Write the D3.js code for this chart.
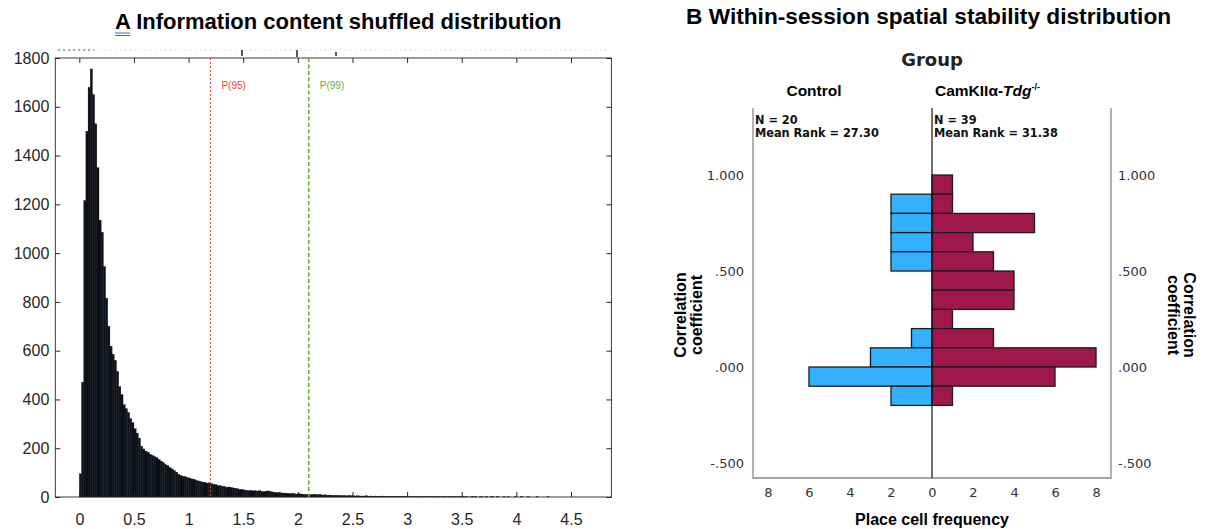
<!DOCTYPE html>
<html>
<head>
<meta charset="utf-8">
<script src="https://cdn.jsdelivr.net/npm/d3@7"></script>
<style>
  body { margin: 0; background: #fff; }
  svg { display: block; }
</style>
</head>
<body>
<svg id="chart" width="1205" height="529"></svg>
<script>

// A: shuffled information content, counts per 0.02 bin starting at 0
var binStart = 0;
var binWidth = 0.02;
var icCounts = [
  95, 470, 1215, 1500, 1680, 1755, 1650, 1530, 1350, 1135,
  1085, 945, 815, 700, 618, 585, 560, 515, 452, 420,
  378, 362, 346, 322, 305, 280, 262, 241, 208, 197,
  188, 184, 175, 171, 166, 161, 154, 147, 141, 133,
  129, 121, 115, 108, 102, 93, 88, 85, 83, 79,
  78, 74, 73, 68, 66, 64, 61, 60, 57, 58,
  55, 52, 51, 47, 46, 44, 43, 40, 41, 39,
  37, 35, 34, 31, 31, 29, 27, 26, 27, 25,
  26, 24, 26, 23, 22, 24, 25, 22, 21, 19,
  18, 19, 17, 16, 16, 15, 14, 15, 13, 12,
  13, 12, 11, 10, 11, 9, 10, 11, 10, 9,
  10, 8, 9, 7, 8, 7, 6, 7, 6, 6,
  5, 6, 5, 6, 5, 5, 4, 5, 4, 4,
  4, 5, 3, 4, 3, 4, 3, 3, 4, 3,
  3, 2, 3, 3, 2, 3, 2, 2, 3, 2,
  2, 2, 2, 1, 2, 2, 1, 2, 1, 2,
  2, 1, 1, 2, 1, 1, 2, 1, 1, 1,
  2, 1, 1, 1, 1, 1, 1, 1, 0, 1,
  1, 1, 0, 1, 1, 0, 1, 0, 1, 1,
  0, 1, 0, 0, 1, 0, 1, 0, 0, 1,
  0, 0, 1, 0, 0, 1, 0, 0, 0, 1,
  0, 0, 0, 0, 1, 0, 0, 0, 0, 0
];
var icTicksX = [0, 0.5, 1, 1.5, 2, 2.5, 3, 3.5, 4, 4.5];
var icTicksY = [0, 200, 400, 600, 800, 1000, 1200, 1400, 1600, 1800];
var percentileNames = ["P(95)", "P(99)"];
var percentileValues = [1.2, 2.1];

// B: within-session stability, bins of 0.1 (lower edge), top to bottom
var stabilityBins = [0.9, 0.8, 0.7, 0.6, 0.5, 0.4, 0.3, 0.2, 0.1, 0.0, -0.1, -0.2];
var controlFreq = [0, 2, 2, 2, 2, 0, 0, 0, 1, 3, 6, 2];
var tdgFreq     = [1, 1, 5, 2, 3, 4, 4, 1, 3, 8, 6, 1];
var stabilityTicks = [1, 0.5, 0, -0.5];
var freqTicks = [0, 2, 4, 6, 8];
var groupN = [20, 39];
var groupRank = ["27.30", "31.38"];

var svg = d3.select("#chart");
var sans = "'Liberation Sans', Arial, Helvetica, sans-serif";
var spss = "'DejaVu Sans', Verdana, sans-serif";

// ---------- panel A ----------
var A = {left: 55.3, right: 611.4, top: 58, bottom: 497};
var xA = d3.scaleLinear().domain([-0.22, 4.87]).range([A.left, A.right]);
var yA = d3.scaleLinear().domain([0, 1800]).range([A.bottom, A.top]);
var axisInk = "#262626";

var titleA = svg.append("text")
  .attr("x", 115).attr("y", 29)
  .attr("font-family", sans).attr("font-weight", "bold").attr("font-size", 22)
  .attr("fill", "#000")
  .text("A Information content shuffled distribution");
var aw = titleA.node().getSubStringLength(0, 1);
[33, 35.5].forEach(function (y) {
  svg.append("line").attr("x1", 115).attr("x2", 115 + aw)
    .attr("y1", y).attr("y2", y)
    .attr("stroke", "#3d66d6").attr("stroke-width", 1);
});

// leftover marks above the axes in the original figure
svg.append("line")
  .attr("x1", A.left).attr("x2", A.right).attr("y1", 50).attr("y2", 50)
  .attr("stroke", "#c8c8c8").attr("stroke-dasharray", "1,4");
svg.append("line")
  .attr("x1", 58).attr("x2", 94).attr("y1", 50).attr("y2", 50)
  .attr("stroke", "#555").attr("stroke-dasharray", "2,3");
[[242, 50, 56], [297, 50, 57], [336, 52, 56]].forEach(function (m) {
  svg.append("line").attr("x1", m[0]).attr("x2", m[0]).attr("y1", m[1]).attr("y2", m[2])
    .attr("stroke", "#222").attr("stroke-width", 1.5);
});

var gA = svg.append("g");

gA.selectAll("rect.bin")
  .data(icCounts)
  .join("rect")
  .attr("class", "bin")
  .attr("x", function (d, i) { return xA(binStart + i * binWidth); })
  .attr("width", xA(binWidth) - xA(0))
  .attr("y", function (d) { return yA(d); })
  .attr("height", function (d) { return yA(0) - yA(d); })
  .attr("fill", "#0c111c")
  .attr("stroke", "#000")
  .attr("stroke-width", 0.3);

function styleAxis(g, fontSize) {
  g.select(".domain").remove();
  g.selectAll(".tick line").attr("stroke", axisInk);
  g.selectAll(".tick text")
    .attr("fill", axisInk)
    .attr("font-family", sans)
    .attr("font-size", fontSize);
}

gA.append("g")
  .attr("transform", "translate(0," + A.bottom + ")")
  .call(d3.axisBottom(xA).tickValues(icTicksX).tickSize(-5).tickSizeOuter(0)
    .tickPadding(17).tickFormat(d3.format("")))
  .call(styleAxis, 16);
gA.append("g")
  .attr("transform", "translate(0," + A.top + ")")
  .call(d3.axisTop(xA).tickValues(icTicksX).tickSize(-5).tickSizeOuter(0).tickFormat(""))
  .call(styleAxis, 16);
gA.append("g")
  .attr("transform", "translate(" + A.left + ",0)")
  .call(d3.axisLeft(yA).tickValues(icTicksY).tickSize(-5).tickSizeOuter(0).tickPadding(6)
    .tickFormat(d3.format("d")))
  .call(styleAxis, 16);
gA.append("g")
  .attr("transform", "translate(" + A.right + ",0)")
  .call(d3.axisRight(yA).tickValues(icTicksY).tickSize(-5).tickSizeOuter(0).tickFormat(""))
  .call(styleAxis, 16);

gA.append("rect")
  .attr("x", A.left).attr("y", A.top)
  .attr("width", A.right - A.left).attr("height", A.bottom - A.top)
  .attr("fill", "none").attr("stroke", axisInk).attr("stroke-width", 0.9);

var pColors = ["#ec4040", "#6eab38"];
var pDash = ["2,2", "4,2.5"];
var pWidth = [1, 1.6];
percentileValues.forEach(function (v, i) {
  gA.append("line")
    .attr("x1", xA(v)).attr("x2", xA(v))
    .attr("y1", A.top).attr("y2", A.bottom)
    .attr("stroke", pColors[i]).attr("stroke-width", pWidth[i])
    .attr("stroke-dasharray", pDash[i]);
  gA.append("text")
    .attr("x", xA(v) + 11).attr("y", 89)
    .attr("font-family", sans).attr("font-size", 10)
    .attr("fill", pColors[i])
    .text(percentileNames[i]);
});

// ---------- panel B ----------
var B = {left: 753, right: 1111, top: 108, bottom: 478, mid: 932};
var xL = d3.scaleLinear().domain([0, 8.73]).range([B.mid, B.left]);
var xR = d3.scaleLinear().domain([0, 8.73]).range([B.mid, B.right]);
var yB = d3.scaleLinear().domain([-0.578, 1.349]).range([B.bottom, B.top]);
var tickInk = "#333";

svg.append("text")
  .attr("x", 686).attr("y", 24)
  .attr("font-family", sans).attr("font-weight", "bold").attr("font-size", 22.7)
  .text("B Within-session spatial stability distribution");

svg.append("text")
  .attr("x", B.mid).attr("y", 66).attr("text-anchor", "middle")
  .attr("font-family", spss).attr("font-weight", "bold").attr("font-size", 18)
  .attr("fill", "#222")
  .text("Group");

svg.append("text")
  .attr("x", 814).attr("y", 96).attr("text-anchor", "middle")
  .attr("font-family", sans).attr("font-weight", "bold").attr("font-size", 15.5)
  .text("Control");

var tdgLabel = svg.append("text")
  .attr("x", 935).attr("y", 96)
  .attr("font-family", sans).attr("font-weight", "bold").attr("font-size", 15.5);
tdgLabel.append("tspan").text("CamKIIα-");
tdgLabel.append("tspan").attr("font-style", "italic").text("Tdg");
tdgLabel.append("tspan").attr("font-size", 9).attr("dy", -6).text("-/-");

var gB = svg.append("g");

function drawSide(freq, xs, fill) {
  gB.append("g").selectAll("rect")
    .data(stabilityBins)
    .join("rect")
    .filter(function (d, i) { return freq[i] > 0; })
    .attr("x", function (d, i) { return Math.min(xs(0), xs(freq[stabilityBins.indexOf(d)])); })
    .attr("width", function (d) { return Math.abs(xs(freq[stabilityBins.indexOf(d)]) - xs(0)); })
    .attr("y", function (d) { return yB(d + 0.1); })
    .attr("height", function (d) { return yB(d) - yB(d + 0.1); })
    .attr("fill", fill)
    .attr("stroke", "#1c1c1c")
    .attr("stroke-width", 1.3);
}
drawSide(controlFreq, xL, "#33b0fe");
drawSide(tdgFreq, xR, "#a0184b");

// frame: grey sides and bottom, black centre line
gB.append("path")
  .attr("d", "M" + B.left + "," + B.top + "V" + B.bottom + "H" + B.right + "V" + B.top)
  .attr("fill", "none").attr("stroke", "#8a8a8a").attr("stroke-width", 1.3);
gB.append("line")
  .attr("x1", B.mid).attr("x2", B.mid).attr("y1", B.top).attr("y2", B.bottom)
  .attr("stroke", "#111").attr("stroke-width", 1.2);

function fmtCorr(v) {
  return v.toFixed(3).replace(/^(-?)0\./, "$1.");
}
function styleB(g) {
  g.select(".domain").remove();
  g.selectAll(".tick line").remove();
  g.selectAll(".tick text")
    .attr("fill", tickInk)
    .attr("font-family", spss)
    .attr("font-size", 13);
}

gB.append("g")
  .attr("transform", "translate(" + B.left + ",0)")
  .call(d3.axisLeft(yB).tickValues(stabilityTicks).tickSize(0).tickPadding(9).tickFormat(fmtCorr))
  .call(styleB);
gB.append("g")
  .attr("transform", "translate(" + B.right + ",0)")
  .call(d3.axisRight(yB).tickValues(stabilityTicks).tickSize(0).tickPadding(7).tickFormat(fmtCorr))
  .call(styleB);
gB.append("g")
  .attr("transform", "translate(0," + B.bottom + ")")
  .call(d3.axisBottom(xL).tickValues(freqTicks).tickSize(0).tickPadding(10))
  .call(styleB);
gB.append("g")
  .attr("transform", "translate(0," + B.bottom + ")")
  .call(d3.axisBottom(xR).tickValues(freqTicks.slice(1)).tickSize(0).tickPadding(10))
  .call(styleB);

[B.left, B.mid].forEach(function (x0, i) {
  var t = gB.append("text")
    .attr("font-family", "'DejaVu Sans Condensed', 'DejaVu Sans', sans-serif")
    .attr("font-stretch", "condensed")
    .attr("font-weight", "bold").attr("font-size", 12.6)
    .attr("fill", "#111");
  t.append("tspan").attr("x", x0 + 2).attr("y", 124).text("N = " + groupN[i]);
  t.append("tspan").attr("x", x0 + 2).attr("y", 137).text("Mean Rank = " + groupRank[i]);
});

svg.append("text")
  .attr("x", B.mid).attr("y", 525).attr("text-anchor", "middle")
  .attr("font-family", sans).attr("font-weight", "bold").attr("font-size", 16)
  .text("Place cell frequency");

// y titles, mirrored on both sides
[[686, 315, -90], [1184, 315, 90]].forEach(function (p) {
  var t = svg.append("text")
    .attr("transform", "translate(" + p[0] + "," + p[1] + ") rotate(" + p[2] + ")")
    .attr("text-anchor", "middle")
    .attr("font-family", sans).attr("font-weight", "bold").attr("font-size", 16);
  t.append("tspan").attr("x", 0).attr("y", 0).text("Correlation");
  t.append("tspan").attr("x", 0).attr("y", 16).text("coefficient");
});

</script>
</body>
</html>
